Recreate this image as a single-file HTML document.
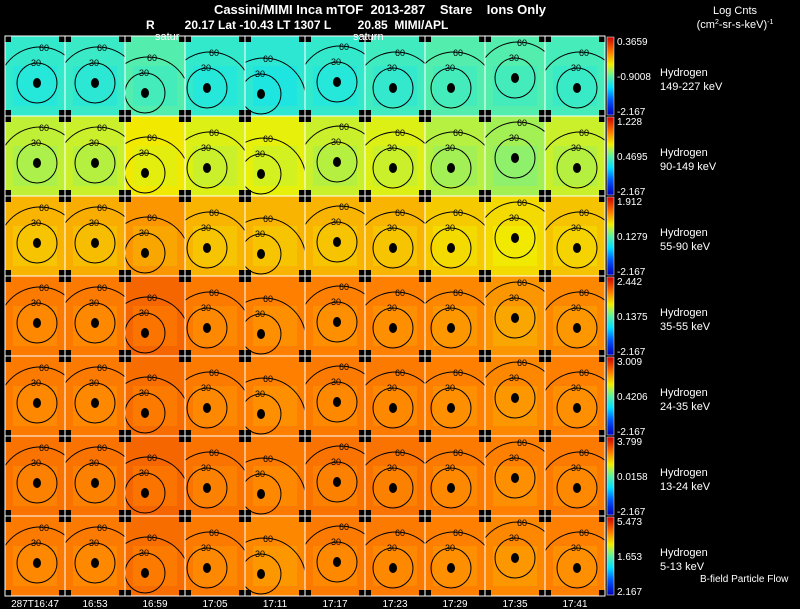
<!DOCTYPE html>
<html><head><meta charset="utf-8"><style>
body{margin:0;background:#000;width:800px;height:609px;overflow:hidden;font-family:"Liberation Sans",sans-serif;color:#fff}
svg{position:absolute;left:0;top:0}
</style></head><body>
<svg id="chart" width="800" height="609">
<defs>
<linearGradient id="cb" x1="0" y1="1" x2="0" y2="0">
<stop offset="0" stop-color="#0000c0"/><stop offset="0.2" stop-color="#0060ff"/><stop offset="0.35" stop-color="#00e0ff"/><stop offset="0.5" stop-color="#60f0a0"/><stop offset="0.65" stop-color="#f0f000"/><stop offset="0.8" stop-color="#ff8000"/><stop offset="1" stop-color="#d00000"/>
</linearGradient>
</defs>
<text x="380" y="14" text-anchor="middle" font-size="13" font-weight="bold" fill="#fff" xml:space="preserve">Cassini/MIMI Inca mTOF  2013-287    Stare    Ions Only</text>
<text x="146" y="29" font-size="12" font-weight="bold" fill="#fff" xml:space="preserve">R         20.17 Lat -10.43 LT 1307 L        20.85  MIMI/APL</text>
<text x="735" y="14" text-anchor="middle" font-size="11" fill="#fff">Log Cnts</text>
<text x="735" y="28" text-anchor="middle" font-size="11" fill="#fff">(cm<tspan font-size="7" dy="-4">2</tspan><tspan dy="4">-sr-s-keV)</tspan><tspan font-size="7" dy="-4">-1</tspan></text>
<g id="grid"></g>
<text x="700" y="582" font-size="10" fill="#fff">B-field Particle Flow</text>
</svg>
<script>
const times=["287T16:47","16:53","16:59","17:05","17:11","17:17","17:23","17:29","17:35","17:41"];
const species=["Hydrogen","Hydrogen","Hydrogen","Hydrogen","Hydrogen","Hydrogen","Hydrogen"];
const energies=["149-227 keV","90-149 keV","55-90 keV","35-55 keV","24-35 keV","13-24 keV","5-13 keV"];
const cbMax=["0.3659","1.228","1.912","2.442","3.009","3.799","5.473"];
const cbMid=["-0.9008","0.4695","0.1279","0.1375","0.4206","0.0158","1.653"];
const cbMin=["-2.167","-2.167","-2.167","-2.167","-2.167","-2.167","2.167"];
// normalized panel intensity (0=blue,1=red) per row/column
const level=[
[0.43,0.44,0.48,0.43,0.42,0.43,0.45,0.48,0.48,0.46],
[0.60,0.61,0.66,0.63,0.64,0.61,0.63,0.59,0.57,0.61],
[0.73,0.74,0.77,0.73,0.73,0.73,0.73,0.70,0.68,0.71],
[0.81,0.81,0.84,0.81,0.80,0.80,0.80,0.79,0.77,0.79],
[0.81,0.81,0.83,0.81,0.80,0.81,0.81,0.80,0.79,0.80],
[0.82,0.82,0.84,0.82,0.81,0.82,0.82,0.81,0.80,0.81],
[0.81,0.81,0.83,0.81,0.79,0.81,0.81,0.80,0.79,0.80]];
const cdx=[32,30,20,22,16,32,28,26,30,32];
const cdy=[47,47,57,52,58,46,52,52,42,52];
function color(v){
 const st=[[0,0,0,192],[0.2,0,96,255],[0.35,0,224,255],[0.5,96,240,160],[0.65,240,240,0],[0.8,255,128,0],[1,208,0,0]];
 for(let i=1;i<st.length;i++){if(v<=st[i][0]){const a=st[i-1],b=st[i],t=(v-a[0])/(b[0]-a[0]);
 return `rgb(${Math.round(a[1]+t*(b[1]-a[1]))},${Math.round(a[2]+t*(b[2]-a[2]))},${Math.round(a[3]+t*(b[3]-a[3]))})`;}}
 return "rgb(208,0,0)";}
const NS="http://www.w3.org/2000/svg",g=document.getElementById("grid");
function mk(t,at,par){const e=document.createElementNS(NS,t);for(const k in at)e.setAttribute(k,at[k]);(par||g).appendChild(e);return e;}
const X0=5,Y0=36,W=60,H=80;
for(let r=0;r<7;r++){
 for(let c=0;c<10;c++){
  const x=X0+c*W,y=Y0+r*H;
  const p=mk("g",{});
  
  
  const cp=mk("clipPath",{id:"cp"+r+"_"+c},p);mk("rect",{x:x,y:y,width:W,height:H},cp);
  const inner=mk("g",{"clip-path":`url(#cp${r}_${c})`},p);
  mk("rect",{x:x,y:y,width:W,height:H,fill:color(level[r][c])},inner);
  mk("rect",{x:x+8,y:y+30,width:44,height:40,fill:color(level[r][c]-0.03),opacity:0.7},inner);
  const cx=x+cdx[c],cy=y+cdy[c];
  mk("circle",{cx:cx,cy:cy,r:20,fill:"none",stroke:"#000","stroke-width":1},inner);
  mk("circle",{cx:cx+3,cy:cy+6,r:42,fill:"none",stroke:"#000","stroke-width":1},inner);
  mk("ellipse",{cx:cx,cy:cy,rx:4,ry:5,fill:"#000"},inner);
  const t1=mk("text",{x:cx-6,y:cy-17,"font-size":9,fill:"#000"},inner);t1.textContent="30";
  const t2=mk("text",{x:cx+2,y:cy-32,"font-size":9,fill:"#000"},inner);t2.textContent="60";
  [[x,y],[x+W-6,y],[x,y+H-6],[x+W-6,y+H-6]].forEach(q=>mk("rect",{x:q[0],y:q[1],width:6,height:6,fill:"#000"},inner));
  mk("rect",{x:x,y:y,width:W,height:H,fill:"none",stroke:"#fff","stroke-width":1},p);
 }
 const y=Y0+r*H;
 const cb=mk("rect",{x:607,y:y+1,width:7,height:H-2,fill:"url(#cb)",stroke:"#fff","stroke-width":0.5});
 
 
 const a=mk("text",{x:617,y:y+9,"font-size":10,fill:"#fff"});a.textContent=cbMax[r];
 
 
 const m=mk("text",{x:617,y:y+44,"font-size":10,fill:"#fff"});m.textContent=cbMid[r];
 
 
 const n=mk("text",{x:617,y:y+79,"font-size":10,fill:"#fff"});n.textContent=cbMin[r];
 
 
 const s=mk("text",{x:660,y:y+40,"font-size":11,fill:"#fff"});s.textContent=species[r];
 
 
 const e=mk("text",{x:660,y:y+54,"font-size":11,fill:"#fff"});e.textContent=energies[r];
 
 
}
for(let c=0;c<10;c++){
 const t=mk("text",{x:X0+c*W+W/2,y:607,"font-size":10,fill:"#fff","text-anchor":"middle"});
 t.textContent=times[c];
 
 
}
const s1=mk("text",{x:155,y:40,"font-size":11,fill:"#fff"});s1.textContent="satur";


const s2=mk("text",{x:353,y:40,"font-size":11,fill:"#fff"});s2.textContent="saturn";


</script>
</body></html>
